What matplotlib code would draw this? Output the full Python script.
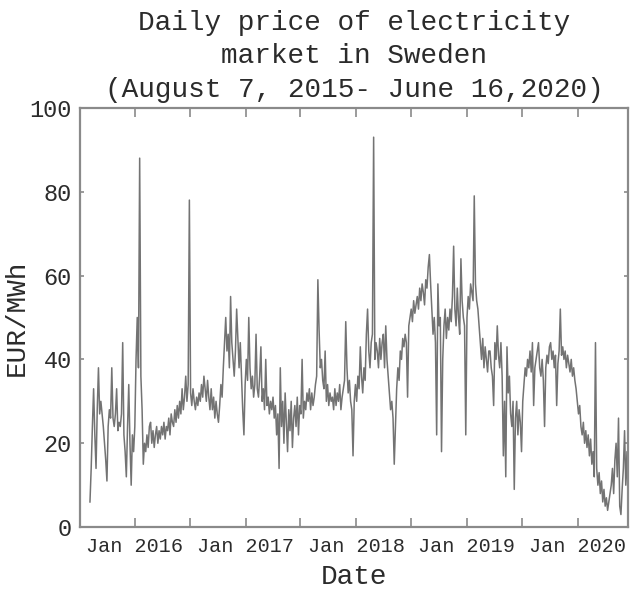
import matplotlib
matplotlib.use("Agg")
import matplotlib.pyplot as plt
import matplotlib.dates as mdates
import pandas as pd

start_date = '2015-08-07'
end_date = '2020-06-16'

# EUR/MWh, one value about every 4 days
price = [
    6, 14, 24, 33, 22, 14, 28, 38, 27, 30,
    27, 24, 20, 16, 11, 24, 28, 26, 38, 26,
    24, 27, 33, 23, 25, 24, 27, 44, 22, 18,
    12, 24, 34, 20, 10, 22, 18, 24, 40, 50,
    38, 88, 36, 28, 15, 20, 18, 22, 19, 24,
    25, 20, 23, 19, 22, 24, 20, 23, 21, 24,
    22, 25, 21, 24, 23, 26, 22, 27, 25, 24,
    28, 25, 29, 26, 30, 27, 33, 28, 31, 36,
    30, 34, 78, 32, 29, 33, 30, 28, 31, 29,
    32, 30, 34, 31, 36, 33, 30, 35, 31, 28,
    33, 28, 31, 26, 30, 27, 25, 29, 34, 31,
    38, 44, 50, 42, 46, 38, 55, 44, 40, 36,
    42, 52, 45, 38, 44, 36, 28, 22, 34, 40,
    35, 50, 38, 33, 36, 31, 34, 46, 33, 31,
    36, 43, 30, 33, 28, 40, 29, 31, 27, 30,
    28, 31, 26, 29, 22, 27, 14, 38, 24, 30,
    20, 32, 25, 18, 28, 23, 30, 19, 26, 29,
    24, 31, 22, 29, 27, 40, 26, 30, 28, 32,
    30, 33, 28, 32, 29, 31, 34, 36, 59, 47,
    38, 40, 35, 33, 42, 30, 34, 29, 32, 30,
    31, 28, 33, 29, 32, 30, 34, 28, 31, 33,
    35, 49, 38, 32, 35, 30, 28, 17, 30, 34,
    30, 36, 33, 43, 36, 32, 38, 35, 46, 52,
    42, 38, 44, 46, 93, 40, 44, 42, 38, 45,
    40, 44, 46, 38, 48, 40, 36, 32, 28, 30,
    26, 15, 24, 33, 38, 35, 42, 40, 45, 43,
    46, 44, 31, 48, 50, 52, 49, 54, 51, 53,
    55, 52, 57, 54, 58, 56, 53, 59, 57, 62,
    65, 58, 52, 46, 50, 44, 22, 58, 48, 50,
    18, 40, 48, 52, 45, 50, 47, 52, 49, 55,
    67, 52, 48, 57, 50, 46, 64, 54, 50, 48,
    22, 50, 55, 52, 58, 56, 54, 79, 58, 54,
    52, 48, 44, 40, 45, 38, 43, 40, 37, 42,
    42, 38, 36, 29, 44, 40, 48, 41, 38, 44,
    36, 17, 30, 12, 43, 32, 36, 27, 24, 30,
    9, 26, 30, 22, 28, 25, 18, 30, 34, 38,
    36, 40, 38, 42, 37, 44, 29, 38, 40, 42,
    44, 38, 36, 40, 35, 24, 38, 41, 39, 43,
    44, 40, 42, 38, 41, 29, 39, 42, 52, 41,
    43, 40, 42, 38, 41, 39, 37, 40, 36, 38,
    35, 33, 30, 27, 29, 24, 22, 25, 20, 23,
    19, 22, 17, 21, 15, 18, 12, 44, 14, 10,
    13, 8, 11, 6, 9, 5, 7, 4, 6, 8,
    10, 14, 8, 16, 20, 12, 26, 5, 3, 9,
    14, 23, 10, 18, 5,
]

y_ticks = [0, 20, 40, 60, 80, 100]

dates = pd.date_range(start_date, end_date, periods=len(price))

mono = ['Liberation Mono', 'DejaVu Sans Mono']
text_col = '#2b2b2b'
frame_col = '#8a8a8a'

fig = plt.figure(figsize=(6.32, 5.99), dpi=100, facecolor='white')
ax = fig.add_axes([0.127, 0.12, 0.867, 0.70])

ax.plot(dates, price, color='#737373', lw=1.1)

ax.set_xlim(pd.Timestamp('2015-07-06'), pd.Timestamp(end_date))
ax.set_ylim(0, 100)
ax.set_yticks(y_ticks)

ax.xaxis.set_major_locator(mdates.YearLocator(month=1))
ax.xaxis.set_major_formatter(mdates.DateFormatter('%b %Y'))
ax.xaxis.set_minor_locator(mdates.MonthLocator(bymonth=7))

ax.tick_params(axis='both', which='both', direction='in', top=True, right=True,
               color=frame_col, width=1.2, labelcolor=text_col)
ax.tick_params(axis='x', which='both', length=6.5, pad=7, labelsize=14.5)
ax.tick_params(axis='y', which='both', length=3, pad=6, labelsize=17)
for lbl in ax.get_xticklabels() + ax.get_yticklabels():
    lbl.set_family(mono)

for sp in ax.spines.values():
    sp.set_color(frame_col)
    sp.set_linewidth(1.6)

ax.set_title('Daily price of electricity\nmarket in Sweden\n(August 7, 2015- June 16,2020)',
             family=mono, fontsize=20, color=text_col, linespacing=1.38, pad=8)
ax.set_xlabel('Date', family=mono, fontsize=20, color=text_col, labelpad=6)
ax.set_ylabel('EUR/MWh', family=mono, fontsize=20, color=text_col, labelpad=0)

fig.savefig('out.png', dpi=100, facecolor='white')
